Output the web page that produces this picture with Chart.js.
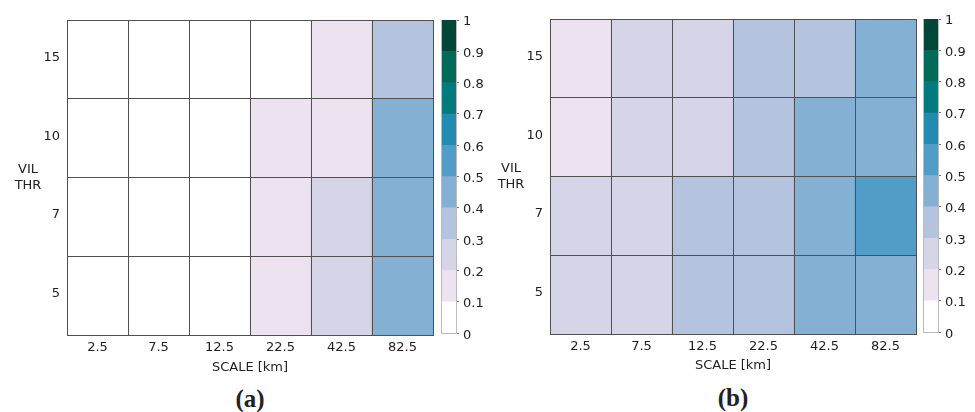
<!DOCTYPE html>
<html>
<head>
<meta charset="utf-8">
<script src="https://cdn.jsdelivr.net/npm/chart.js@4.4.1/dist/chart.umd.min.js"></script>
<style>
  body { margin: 0; background: #fff; width: 975px; height: 412px; overflow: hidden; position: relative; font-family: 'DejaVu Sans', sans-serif; color: #222; }
  canvas { position: absolute; }
  .lbl { position: absolute; font-size: 13px; line-height: 16px; text-align: center; white-space: nowrap; }
  .cap { position: absolute; font-family: 'Liberation Serif', serif; font-weight: bold; font-size: 25px; line-height: 28px; text-align: center; }
</style>
</head>
<body>
<canvas id="heat-a" width="440" height="360" style="left:0;top:0"></canvas>
<canvas id="bar-a" width="54" height="345" style="left:436px;top:0"></canvas>
<canvas id="heat-b" width="440" height="360" style="left:483px;top:-1px"></canvas>
<canvas id="bar-b" width="57" height="345" style="left:918px;top:-1px"></canvas>

<div class="lbl" style="left:0;top:161px;width:56px">VIL<br>THR</div>
<div class="lbl" style="left:483px;top:160px;width:56px">VIL<br>THR</div>
<div class="lbl" style="left:150px;top:359px;width:200px">SCALE [km]</div>
<div class="lbl" style="left:633px;top:357px;width:200px">SCALE [km]</div>
<div class="cap" style="left:200px;top:385px;width:100px">(a)</div>
<div class="cap" style="left:683px;top:384px;width:100px">(b)</div>

<script>
// categories
const scaleKm = ['2.5', '7.5', '12.5', '22.5', '42.5', '82.5'];
const vilThr = ['5', '7', '10', '15']; // bottom -> top

// panel (a) scores, one array per VIL threshold
const scoreA5  = [0.04, 0.05, 0.06, 0.14, 0.24, 0.46];
const scoreA7  = [0.04, 0.05, 0.06, 0.15, 0.23, 0.45];
const scoreA10 = [0.03, 0.04, 0.05, 0.13, 0.16, 0.44];
const scoreA15 = [0.02, 0.03, 0.04, 0.07, 0.12, 0.33];

// panel (b) scores
const scoreB5  = [0.22, 0.24, 0.33, 0.36, 0.44, 0.47];
const scoreB7  = [0.23, 0.25, 0.34, 0.37, 0.46, 0.53];
const scoreB10 = [0.16, 0.22, 0.26, 0.34, 0.42, 0.45];
const scoreB15 = [0.13, 0.21, 0.24, 0.31, 0.35, 0.42];

// colour levels (PuBuGn, 10 bins)
const levels = [0, 0.1, 0.2, 0.3, 0.4, 0.5, 0.6, 0.7, 0.8, 0.9, 1];
const levelColors = ['#ffffff', '#ede3f0', '#d6d5e8', '#b4c4de', '#84b1d3', '#529cc8', '#238ab2', '#037b7e', '#026a59', '#014636'];

const GRID = '#505050';
const TXT = '#222';
const FONT = { family: 'DejaVu Sans', size: 13 };

function colorFor(v) {
  for (let i = 0; i < levelColors.length; i++) {
    if (v < levels[i + 1]) return levelColors[i];
  }
  return levelColors[levelColors.length - 1];
}

function renderHeatmap(id, rows) {
  new Chart(document.getElementById(id), {
    type: 'bar',
    data: {
      labels: scaleKm,
      datasets: rows.map((row, r) => ({
        label: vilThr[r],
        data: row.map(() => 1),
        backgroundColor: row.map(colorFor),
        borderWidth: 0,
        barPercentage: 1,
        categoryPercentage: 1,
      }))
    },
    options: {
      responsive: false,
      animation: false,
      devicePixelRatio: 1,
      layout: { padding: { top: 20, right: 7 } },
      plugins: { legend: { display: false }, tooltip: { enabled: false } },
      scales: {
        x: {
          stacked: true,
          grid: { offset: true, drawTicks: false, color: GRID, z: 1 },
          border: { color: GRID, z: 2 },
          ticks: { color: TXT, font: FONT, padding: 5 },
          afterFit: s => { s.height = 25; }
        },
        y: {
          stacked: true,
          min: 0,
          max: 4,
          afterBuildTicks: s => { s.ticks = [0.5, 1.5, 2.5, 3.5].map(v => ({ value: v })); },
          grid: { offset: true, drawTicks: false, color: GRID, z: 1 },
          border: { color: GRID, z: 2 },
          ticks: {
            color: TXT, font: FONT, padding: 7, labelOffset: -2,
            callback: (v, i) => vilThr[i]
          },
          afterFit: s => { s.width = 67; }
        }
      }
    }
  });
}

function renderColorbar(id, axisWidth) {
  new Chart(document.getElementById(id), {
    type: 'bar',
    data: {
      labels: [''],
      datasets: levelColors.map((c, i) => ({
        data: [levels[i + 1] - levels[i]],
        backgroundColor: c,
        borderWidth: 0,
        barPercentage: 1,
        categoryPercentage: 1,
      }))
    },
    options: {
      responsive: false,
      animation: false,
      devicePixelRatio: 1,
      layout: { padding: { top: 20, left: 5, bottom: 10 } },
      plugins: { legend: { display: false }, tooltip: { enabled: false } },
      scales: {
        x: {
          stacked: true,
          ticks: { display: false },
          grid: { offset: true, drawTicks: false, color: '#bbb', z: 1 },
          border: { color: '#bbb', z: 2 },
          afterFit: s => { s.height = 0; }
        },
        y: {
          position: 'right',
          stacked: true,
          min: 0,
          max: 1,
          grid: { drawOnChartArea: false, tickLength: 3, tickColor: '#777', z: 1 },
          border: { color: '#bbb', z: 2 },
          ticks: {
            stepSize: 0.1, color: TXT, font: FONT, padding: 4, labelOffset: 2,
            callback: v => String(Math.round(v * 10) / 10)
          },
          afterFit: s => { s.width = axisWidth; }
        }
      }
    }
  });
}

renderHeatmap('heat-a', [scoreA5, scoreA7, scoreA10, scoreA15]);
renderHeatmap('heat-b', [scoreB5, scoreB7, scoreB10, scoreB15]);
renderColorbar('bar-a', 34);
renderColorbar('bar-b', 37);
</script>
</body>
</html>
